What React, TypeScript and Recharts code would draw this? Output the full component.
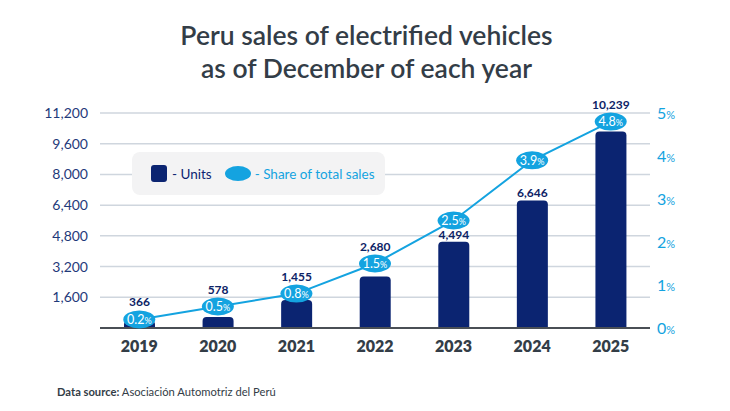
import React from 'react';
import { ComposedChart, Bar, Line, XAxis, YAxis, CartesianGrid, LabelList } from 'recharts';

const years = ['2019', '2020', '2021', '2022', '2023', '2024', '2025'];
const units = [366, 578, 1455, 2680, 4494, 6646, 10239];
const share = [0.2, 0.5, 0.8, 1.5, 2.5, 3.9, 4.8];
const unitTicks = [0, 1600, 3200, 4800, 6400, 8000, 9600, 11200];
const shareTicks = [0, 1, 2, 3, 4, 5];

const UNIT_MAX = 11200;
const SHARE_MAX = 5;

const NAVY = '#0b2471';
const BLUE = '#14a3e0';
const TITLE = '#333d47';
const FONT = 'Lato, "Noto Sans", sans-serif';

const data = years.map((year, i) => ({ year, units: units[i], share: share[i] }));

const LeftTick = (props: any) => {
  const { x, y, payload } = props;
  if (payload.value === 0) return null;
  return (
    <text x={x} y={y} dy={5} textAnchor="end" fill="#1f3a7a" fontSize={14} fontFamily={FONT}>
      {Number(payload.value).toLocaleString('en-US')}
    </text>
  );
};

const RightTick = (props: any) => {
  const { x, y, payload } = props;
  return (
    <text x={x} y={y} dy={5.5} textAnchor="start" fill={BLUE} fontSize={16} fontFamily={FONT}>
      <tspan>{payload.value}</tspan>
      <tspan fontSize={11}>%</tspan>
    </text>
  );
};

const XTick = (props: any) => {
  const { x, y, payload } = props;
  return (
    <text x={x} y={y} dy={12} textAnchor="middle" fill={TITLE} fontSize={16} fontWeight={800} fontFamily={FONT}>
      {payload.value}
    </text>
  );
};

const BarLabel = (props: any) => {
  const { x, y, width, height, value, index } = props;
  const bx = Number(x);
  const by = Number(y);
  const bh = Number(height);
  const baseline = by + bh;
  const pxPerUnit = bh / Number(value);
  const lineY = baseline - share[index] * (UNIT_MAX / SHARE_MAX) * pxPerUnit;
  const ry = 9;
  let bottom = by - 3;
  if (lineY + ry > by - 12) bottom = Math.min(by, lineY - ry) - 4;
  return (
    <text
      x={bx + Number(width) / 2}
      y={bottom}
      textAnchor="middle"
      fill="#0d2366"
      fontSize={12}
      fontWeight={700}
      fontFamily={FONT}
    >
      {Number(value).toLocaleString('en-US')}
    </text>
  );
};

const ShareDot = (props: any) => {
  const { cx, cy, index } = props;
  return <ellipse key={`dot-${index}`} cx={cx} cy={cy} rx={16} ry={9} fill={BLUE} />;
};

const ShareLabel = (props: any) => {
  const { x, y, value } = props;
  return (
    <text x={x} y={y} dy={4.5} textAnchor="middle" fill="#ffffff" fontSize={12.5} fontFamily={FONT}>
      <tspan>{Number(value).toFixed(1)}</tspan>
      <tspan fontSize={9}>%</tspan>
    </text>
  );
};

export default function App() {
  return (
    <div style={{ position: 'absolute', left: 0, top: 0, width: 730, height: 411, background: '#fff', fontFamily: FONT }}>
      <div
        style={{
          position: 'absolute',
          left: 0,
          top: 19,
          width: 733,
          textAlign: 'center',
          fontSize: 26.5,
          lineHeight: '33px',
          fontWeight: 600,
          color: TITLE,
        }}
      >
        Peru sales of electrified vehicles
        <br />
        as of December of each year
      </div>

      <ComposedChart
        width={730}
        height={411}
        data={data}
        margin={{ top: 113, right: 30, bottom: 53, left: 40 }}
        barCategoryGap={0}
      >
        <CartesianGrid yAxisId="left" vertical={false} stroke="#cfd6de" strokeWidth={1.5} />
        <XAxis
          dataKey="year"
          axisLine={{ stroke: '#4a4f55', strokeWidth: 2 }}
          tickLine={false}
          tickSize={0}
          tickMargin={12}
          height={30}
          tick={<XTick />}
          interval={0}
        />
        <YAxis
          yAxisId="left"
          orientation="left"
          width={60}
          domain={[0, UNIT_MAX]}
          ticks={unitTicks}
          axisLine={false}
          tickLine={false}
          tickSize={0}
          tickMargin={12}
          tick={<LeftTick />}
          interval={0}
        />
        <YAxis
          yAxisId="right"
          orientation="right"
          width={50}
          domain={[0, SHARE_MAX]}
          ticks={shareTicks}
          axisLine={false}
          tickLine={false}
          tickSize={0}
          tickMargin={7}
          tick={<RightTick />}
          interval={0}
        />
        <Bar yAxisId="left" dataKey="units" fill={NAVY} barSize={31} radius={[4, 4, 0, 0]} isAnimationActive={false}>
          <LabelList dataKey="units" content={<BarLabel />} />
        </Bar>
        <Line
          yAxisId="right"
          dataKey="share"
          stroke={BLUE}
          strokeWidth={2}
          dot={<ShareDot />}
          activeDot={false}
          isAnimationActive={false}
        >
          <LabelList dataKey="share" content={<ShareLabel />} />
        </Line>
      </ComposedChart>

      <div
        style={{
          position: 'absolute',
          left: 132,
          top: 152,
          width: 253,
          height: 43,
          background: '#f3f3f4',
          borderRadius: 8,
          display: 'flex',
          alignItems: 'center',
          boxSizing: 'border-box',
          paddingLeft: 19,
          fontSize: 13.5,
        }}
      >
        <span style={{ display: 'inline-block', width: 16, height: 17, background: NAVY, borderRadius: 3 }} />
        <span style={{ color: NAVY, marginLeft: 5 }}>- Units</span>
        <span
          style={{ display: 'inline-block', width: 26, height: 15, background: BLUE, borderRadius: '50%', marginLeft: 13 }}
        />
        <span style={{ color: BLUE, marginLeft: 4 }}>- Share of total sales</span>
      </div>

      <div
        style={{
          position: 'absolute',
          left: 57,
          top: 384,
          fontSize: 11.2,
          lineHeight: '15px',
          color: '#333d47',
        }}
      >
        <span style={{ fontWeight: 700 }}>Data source:</span> Asociación Automotriz del Perú
      </div>
    </div>
  );
}
